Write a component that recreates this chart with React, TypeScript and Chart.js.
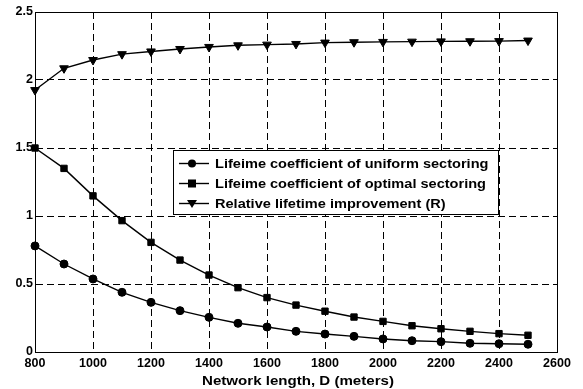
import React, { useEffect, useRef } from "react";
import { Chart, registerables } from "chart.js";

Chart.register(...registerables);

const distances = [800, 900, 1000, 1100, 1200, 1300, 1400, 1500, 1600, 1700, 1800, 1900, 2000, 2100, 2200, 2300, 2400, 2500];
const uniformCoeff = [0.78, 0.647, 0.537, 0.439, 0.365, 0.304, 0.255, 0.211, 0.184, 0.152, 0.132, 0.115, 0.096, 0.083, 0.076, 0.064, 0.061, 0.057];
const optimalCoeff = [1.5, 1.35, 1.148, 0.966, 0.806, 0.676, 0.566, 0.473, 0.4, 0.345, 0.3, 0.257, 0.225, 0.193, 0.171, 0.152, 0.135, 0.123];
const relativeImprovement = [1.926, 2.086, 2.147, 2.19, 2.21, 2.228, 2.243, 2.255, 2.26, 2.265, 2.275, 2.278, 2.28, 2.282, 2.284, 2.285, 2.286, 2.29];
const seriesLabels = [
  "Lifeime coefficient of uniform sectoring",
  "Lifeime coefficient of optimal sectoring",
  "Relative lifetime improvement (R)",
];
const xTitle = "Network length, D (meters)";

const FONT = "'Liberation Sans', Arial, sans-serif";

function drawScaled(ctx: any, text: string, x: number, y: number, font: string, sx: number, align: "left" | "center") {
  ctx.save();
  ctx.font = font;
  ctx.textBaseline = "middle";
  ctx.textAlign = "left";
  const w = ctx.measureText(text).width * sx;
  const x0 = align === "center" ? x - w / 2 : x;
  ctx.translate(x0, y);
  ctx.scale(sx, 1);
  ctx.fillText(text, 0, 0);
  ctx.restore();
}

const framePlugin = {
  id: "frameAndLegend",
  afterDraw(chart: any) {
    const { ctx, chartArea } = chart;
    const { left, right, top, bottom } = chartArea;
    ctx.save();
    ctx.strokeStyle = "#000";
    ctx.lineWidth = 1;
    ctx.setLineDash([]);
    ctx.strokeRect(Math.round(left) + 0.5, Math.round(top) + 0.5, Math.round(right - left), Math.round(bottom - top));

    // x axis title
    ctx.fillStyle = "#000";
    drawScaled(ctx, xTitle, (left + right) / 2 + 2, 381, `bold 13px ${FONT}`, 1.16, "center");

    // legend box
    const bx = 173, by = 150, bw = 325, bh = 64;
    ctx.fillStyle = "#fff";
    ctx.fillRect(bx, by, bw, bh);
    ctx.strokeStyle = "#000";
    ctx.strokeRect(bx + 0.5, by + 0.5, bw, bh);
    const rows = [163, 183, 203];
    const styles = ["circle", "rect", "triangle"];
    rows.forEach((y, i) => {
      ctx.beginPath();
      ctx.moveTo(179, y + 0.5);
      ctx.lineTo(209, y + 0.5);
      ctx.lineWidth = 1.4;
      ctx.stroke();
      ctx.fillStyle = "#000";
      const cx = 192;
      if (styles[i] === "circle") {
        ctx.beginPath();
        ctx.arc(cx, y + 0.5, 4, 0, Math.PI * 2);
        ctx.fill();
      } else if (styles[i] === "rect") {
        ctx.fillRect(cx - 4, y - 3.5, 8, 8);
      } else {
        ctx.beginPath();
        ctx.moveTo(cx - 5, y - 3);
        ctx.lineTo(cx + 5, y - 3);
        ctx.lineTo(cx, y + 5);
        ctx.closePath();
        ctx.fill();
      }
      drawScaled(ctx, seriesLabels[i], 215, y + 1, `bold 13px ${FONT}`, 1.12, "left");
    });
    ctx.restore();
  },
};

export default function App() {
  const ref = useRef<HTMLCanvasElement>(null);
  useEffect(() => {
    document.body.style.margin = "0";
    const mk = (label: string, data: number[], style: string, radius: number, rotation = 0) => ({
      label,
      data: data.map((v, i) => ({ x: distances[i], y: v })),
      borderColor: "#000",
      backgroundColor: "#000",
      borderWidth: 1.4,
      pointStyle: style,
      pointRadius: radius,
      pointRotation: rotation,
      pointBackgroundColor: "#000",
      pointBorderColor: "#000",
      pointBorderWidth: 1,
      tension: 0,
      clip: false,
    });
    const chart = new Chart(ref.current!, {
      type: "line",
      data: {
        datasets: [
          mk(seriesLabels[0], uniformCoeff, "circle", 4),
          mk(seriesLabels[1], optimalCoeff, "rect", 4.5),
          mk(seriesLabels[2], relativeImprovement, "triangle", 5, 180),
        ],
      },
      options: {
        responsive: false,
        animation: false,
        layout: { padding: { top: 12, right: 26, left: 0, bottom: 0 } },
        plugins: { legend: { display: false }, tooltip: { enabled: false } },
        scales: {
          x: {
            type: "linear",
            min: 800,
            max: 2600,
            ticks: {
              stepSize: 200,
              color: "#000",
              font: { family: FONT, size: 12.5, weight: "bold" },
              padding: 4,
              maxRotation: 0,
              callback: (v: any) => String(v),
            },
            grid: { color: "#000", lineWidth: 1, drawTicks: false },
            border: { display: true, color: "#000", dash: [7, 4] },
            afterFit: (s: any) => { s.height = 37; },
          } as any,
          y: {
            type: "linear",
            min: 0,
            max: 2.5,
            ticks: {
              stepSize: 0.5,
              color: "#000",
              font: { family: FONT, size: 12.5, weight: "bold" },
              padding: 2,
              callback: (v: any) => String(v),
            },
            grid: { color: "#000", lineWidth: 1, drawTicks: false },
            border: { display: true, color: "#000", dash: [7, 4] },
            afterFit: (s: any) => { s.width = 35; },
          } as any,
        },
      },
      plugins: [framePlugin],
    });
    return () => chart.destroy();
  }, []);
  return <canvas ref={ref} width={583} height={389} style={{ display: "block" }} />;
}
